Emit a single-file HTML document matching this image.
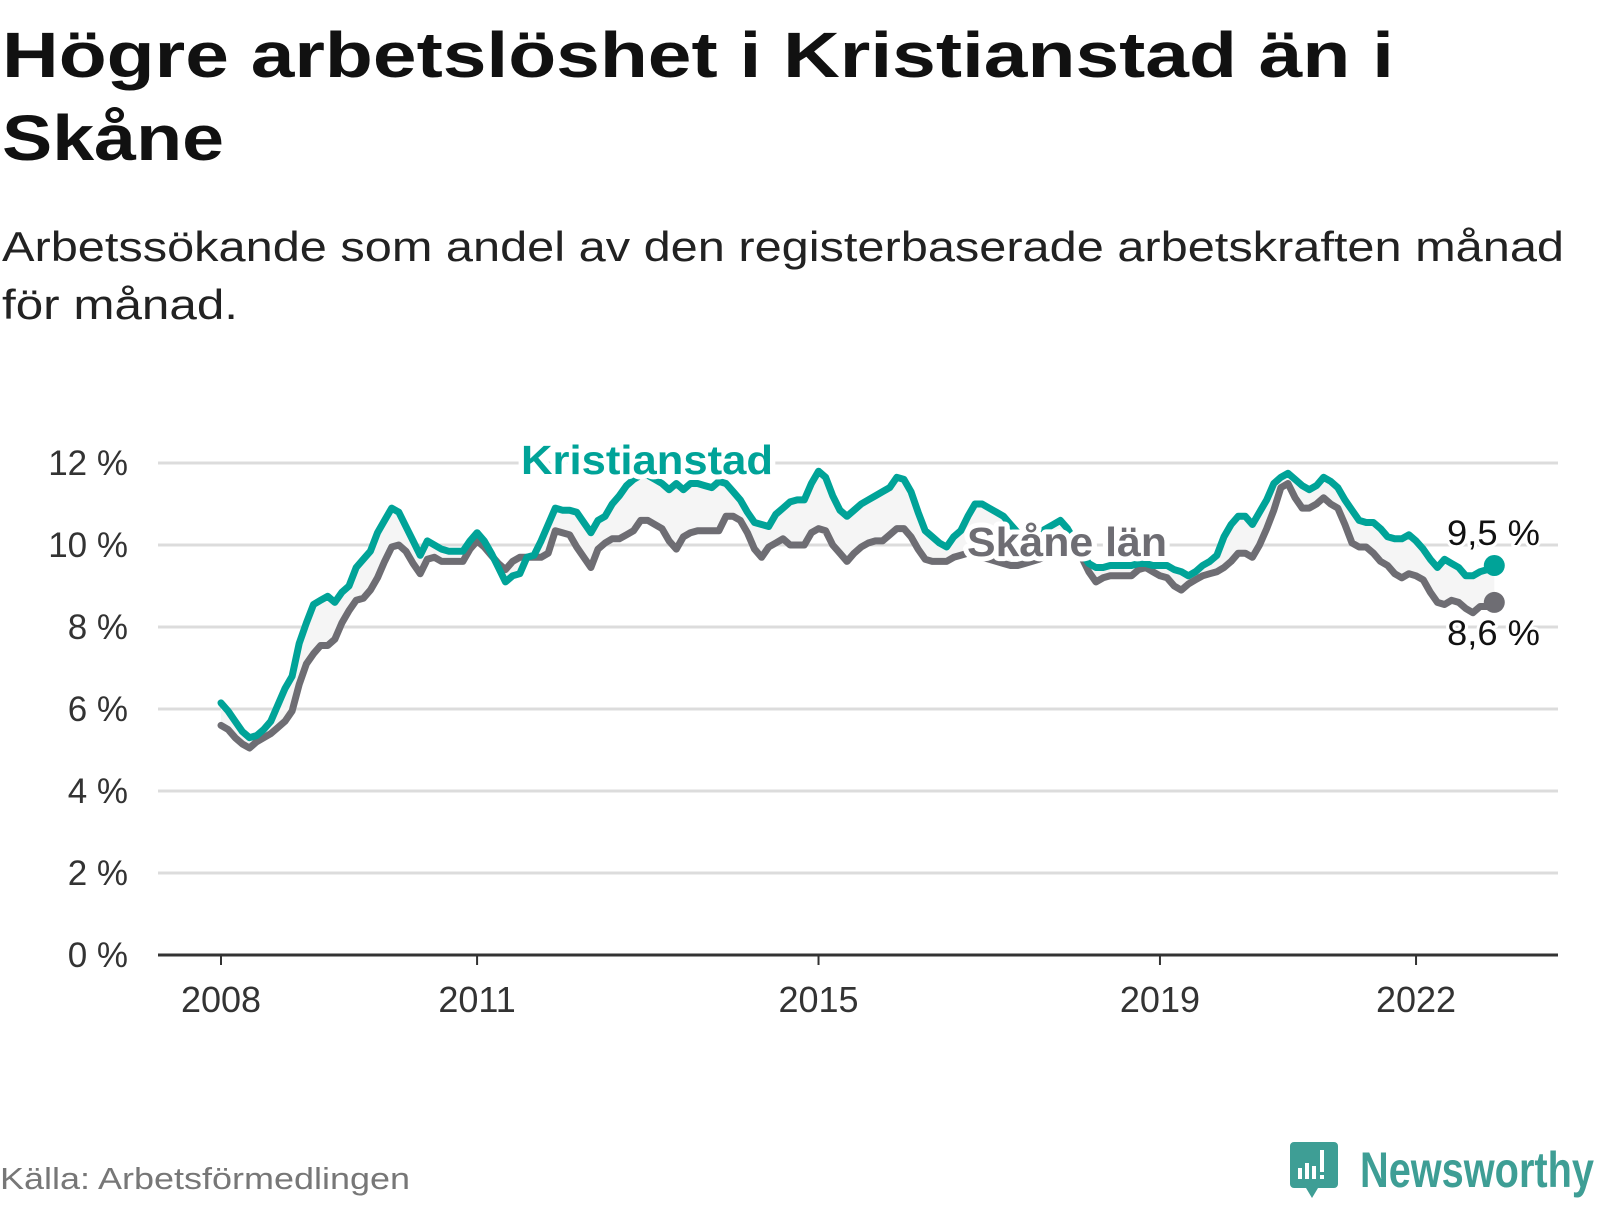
<!DOCTYPE html>
<html><head><meta charset="utf-8"><style>
html,body{margin:0;padding:0;background:#fff;}
body{width:1600px;height:1200px;overflow:hidden;font-family:"Liberation Sans",sans-serif;}
</style></head><body>
<svg id="chart" width="1600" height="1200" xmlns="http://www.w3.org/2000/svg">
<text x="2" y="77" font-size="64" font-weight="bold" fill="#111" textLength="1392" lengthAdjust="spacingAndGlyphs">Högre arbetslöshet i Kristianstad än i</text>
<text x="2" y="160" font-size="64" font-weight="bold" fill="#111" textLength="222" lengthAdjust="spacingAndGlyphs">Skåne</text>
<text x="2" y="261" font-size="42" fill="#222" textLength="1562" lengthAdjust="spacingAndGlyphs">Arbetssökande som andel av den registerbaserade arbetskraften månad</text>
<text x="2" y="319" font-size="42" fill="#222" textLength="236" lengthAdjust="spacingAndGlyphs">för månad.</text>
<g id="grid"></g>
<g id="plot"></g>
<g id="labels"></g>
<text x="0" y="1189" font-size="31" fill="#777" textLength="410" lengthAdjust="spacingAndGlyphs">Källa: Arbetsförmedlingen</text>
<g>
<path d="M1294 1142 h40 a4 4 0 0 1 4 4 v38 a4 4 0 0 1 -4 4 h-16 l-6 10 l-6 -10 h-12 a4 4 0 0 1 -4 -4 v-38 a4 4 0 0 1 4 -4z" fill="#3e9e95"/>
<rect x="1298" y="1168" width="4" height="11" fill="#fff"/><rect x="1305" y="1163" width="4" height="16" fill="#fff"/><rect x="1312" y="1166" width="4" height="13" fill="#fff"/><rect x="1320" y="1150" width="4" height="22" fill="#fff"/><rect x="1320" y="1175" width="4" height="4" fill="#fff"/>
<text x="1360" y="1187" font-size="50" font-weight="bold" fill="#3e9e95" textLength="234" lengthAdjust="spacingAndGlyphs">Newsworthy</text>
</g>
</svg>
<script>
const kristianstad = [6.15,5.95,5.7,5.45,5.3,5.35,5.5,5.7,6.1,6.5,6.8,7.6,8.1,8.55,8.65,8.75,8.6,8.85,9.0,9.45,9.65,9.85,10.3,10.6,10.9,10.8,10.45,10.1,9.75,10.1,10.0,9.9,9.85,9.85,9.85,10.1,10.3,10.1,9.8,9.45,9.1,9.25,9.3,9.7,9.75,10.1,10.5,10.9,10.85,10.85,10.8,10.55,10.3,10.6,10.7,11.0,11.2,11.45,11.6,11.7,11.7,11.6,11.5,11.35,11.5,11.35,11.5,11.5,11.45,11.4,11.55,11.5,11.3,11.1,10.8,10.55,10.5,10.45,10.75,10.9,11.05,11.1,11.1,11.5,11.8,11.65,11.2,10.85,10.7,10.85,11.0,11.1,11.2,11.3,11.4,11.65,11.6,11.3,10.8,10.35,10.2,10.05,9.95,10.2,10.35,10.7,11.0,11.0,10.9,10.8,10.7,10.5,10.3,10.2,10.2,10.3,10.4,10.5,10.6,10.4,10.1,9.8,9.55,9.45,9.45,9.5,9.5,9.5,9.5,9.55,9.55,9.5,9.5,9.5,9.4,9.35,9.25,9.35,9.5,9.6,9.75,10.2,10.5,10.7,10.7,10.5,10.8,11.1,11.5,11.65,11.75,11.6,11.45,11.35,11.45,11.65,11.55,11.4,11.1,10.85,10.6,10.55,10.55,10.4,10.2,10.15,10.15,10.25,10.1,9.9,9.65,9.45,9.65,9.55,9.45,9.25,9.25,9.35,9.4,9.5];
const skane = [5.6,5.5,5.3,5.15,5.05,5.2,5.3,5.4,5.55,5.7,5.95,6.6,7.1,7.35,7.55,7.55,7.7,8.1,8.4,8.65,8.7,8.9,9.2,9.6,9.95,10.0,9.85,9.55,9.3,9.65,9.7,9.6,9.6,9.6,9.6,9.9,10.1,9.95,9.75,9.55,9.4,9.6,9.7,9.7,9.7,9.7,9.8,10.35,10.3,10.25,9.95,9.7,9.45,9.9,10.05,10.15,10.15,10.25,10.35,10.6,10.6,10.5,10.4,10.1,9.9,10.2,10.3,10.35,10.35,10.35,10.35,10.7,10.7,10.6,10.3,9.9,9.7,9.95,10.05,10.15,10.0,10.0,10.0,10.3,10.4,10.35,10.0,9.8,9.6,9.8,9.95,10.05,10.1,10.1,10.25,10.4,10.4,10.2,9.9,9.65,9.6,9.6,9.6,9.7,9.75,9.8,9.75,9.7,9.65,9.6,9.55,9.5,9.5,9.55,9.6,9.65,9.75,9.85,9.9,9.9,9.8,9.7,9.35,9.1,9.2,9.25,9.25,9.25,9.25,9.4,9.45,9.35,9.25,9.2,9.0,8.9,9.05,9.15,9.25,9.3,9.35,9.45,9.6,9.8,9.8,9.7,10.0,10.4,10.85,11.4,11.5,11.15,10.9,10.9,11.0,11.15,11.0,10.9,10.5,10.05,9.95,9.95,9.8,9.6,9.5,9.3,9.2,9.3,9.25,9.15,8.85,8.6,8.55,8.65,8.6,8.45,8.35,8.5,8.5,8.6];
const yTicks = [0,2,4,6,8,10,12];
const xTickYears = [2008,2011,2015,2019,2022];
const startYear = 2008;

const NS='http://www.w3.org/2000/svg';
const X0=221, PERYEAR=85.36, Y0=955, PERPCT=41, XL=158, XR=1558;
function xs(i){return X0 + i*PERYEAR/12;}
function xYear(y){return X0 + (y-startYear)*PERYEAR;}
function ys(v){return Y0 - v*PERPCT;}
function mk(tag,attrs,parent){const e=document.createElementNS(NS,tag);for(const k in attrs)e.setAttribute(k,attrs[k]);parent.appendChild(e);return e;}
const grid=document.getElementById('grid'), plot=document.getElementById('plot'), labels=document.getElementById('labels');

yTicks.forEach(t=>{
  if(t>0){const l=mk('line',{x1:XL,x2:XR,y1:ys(t),y2:ys(t),stroke:'#dcdcdc','stroke-width':3},grid);
  
  }
  const tx=mk('text',{x:128,y:ys(t)+12,'text-anchor':'end','font-size':35,fill:'#333'},grid);
  tx.textContent=t+' %';
  
  
});
const ax=mk('line',{x1:XL,x2:XR,y1:Y0,y2:Y0,stroke:'#333','stroke-width':3},grid);


xTickYears.forEach(yr=>{
  const x=xYear(yr);
  const tk=mk('line',{x1:x,x2:x,y1:Y0,y2:Y0+10,stroke:'#333','stroke-width':2},grid);
  
  
  const tx=mk('text',{x:x,y:Y0+57,'text-anchor':'middle','font-size':36,fill:'#333'},grid);
  tx.textContent=yr;
  
  
});

let d='M'+kristianstad.map((v,i)=>xs(i).toFixed(1)+','+ys(v).toFixed(1)).join(' L');
for(let i=skane.length-1;i>=0;i--) d+=' L'+xs(i).toFixed(1)+','+ys(skane[i]).toFixed(1);
const band=mk('path',{d:d+'Z',fill:'#f5f5f5'},plot);



function line(arr,color,name){
  const p=mk('path',{d:'M'+arr.map((v,i)=>xs(i).toFixed(1)+','+ys(v).toFixed(1)).join(' L'),fill:'none',stroke:color,'stroke-width':7,'stroke-linejoin':'round','stroke-linecap':'round'},plot);
  
  
  const n=arr.length-1;
  const c=mk('circle',{cx:xs(n),cy:ys(arr[n]),r:10.5,fill:color},plot);
  
  
}
line(skane,'#6e6d73','skane-line');
line(kristianstad,'#00a398','kristianstad-line');

function lbl(txt,x,y,color,bold,name,anchor,len){
  const t=mk('text',{x:x,y:y,'font-size':bold?41:35,'font-weight':bold?'bold':'normal',fill:color,stroke:'#fff','stroke-width':bold?10:6,'paint-order':'stroke','stroke-linejoin':'round','text-anchor':anchor||'start',textLength:len,lengthAdjust:'spacingAndGlyphs'},labels);
  t.textContent=txt;
  
  
  return t;
}
lbl('Kristianstad',521,474,'#00a398',true,'kristianstad-label','start',252);
lbl('Skåne län',967,556,'#6e6d73',true,'skane-label','start',200);
const nk=kristianstad.length-1, nsk=skane.length-1;
lbl(kristianstad[nk].toFixed(1).replace('.',',')+' %',1540,545,'#111',false,'kristianstad-end-value','end',93);
lbl(skane[nsk].toFixed(1).replace('.',',')+' %',1540,645,'#111',false,'skane-end-value','end',93);
</script>
</body></html>
